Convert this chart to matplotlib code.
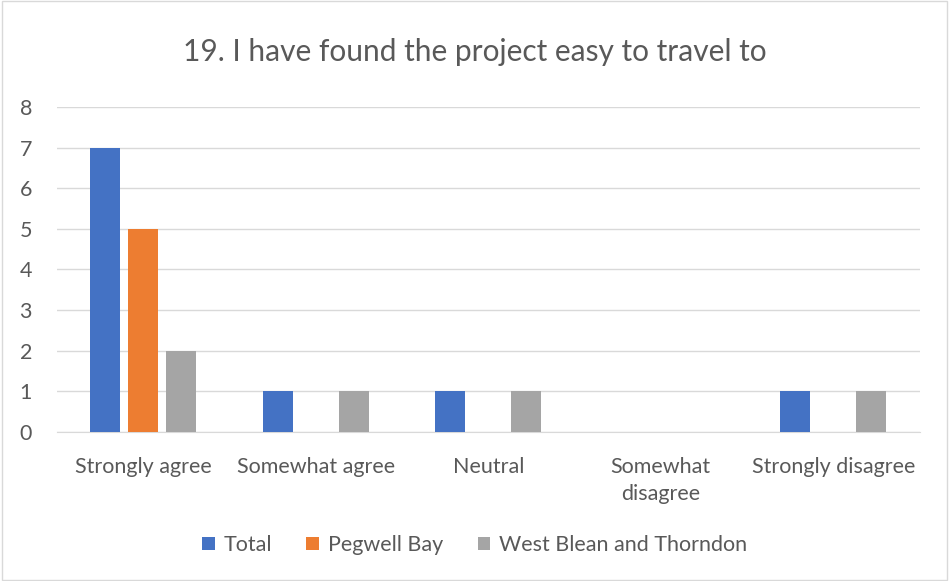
import matplotlib.pyplot as plt
from matplotlib.patches import Rectangle
import numpy as np

categories = ['Strongly agree', 'Somewhat agree', 'Neutral', 'Somewhat\ndisagree', 'Strongly disagree']
total = [7, 1, 1, 0, 1]
pegwell_bay = [5, 0, 0, 0, 0]
west_blean = [2, 1, 1, 0, 1]
series_names = ['Total', 'Pegwell Bay', 'West Blean and Thorndon']
colors = ['#4472C4', '#ED7D31', '#A5A5A5']
text_color = '#595959'

plt.rcParams['font.family'] = ['Lato', 'DejaVu Sans']

fig = plt.figure(figsize=(9.49, 5.81), dpi=100)
ax = fig.add_axes([0.060, 0.2565, 0.909, 0.5593])

x = np.arange(len(categories))
width = 0.173
step = 0.22
for i, (vals, name) in enumerate(zip([total, pegwell_bay, west_blean], series_names)):
    ax.bar(x + (i - 1) * step, vals, width, color=colors[i], label=name, zorder=3)

ax.set_xlim(-0.5, len(categories) - 0.5)
ax.set_ylim(0, 8)
ax.set_yticks(range(0, 9))
ax.grid(axis='y', color='#D9D9D9', linewidth=1, zorder=0)
for s in ['top', 'right', 'left']:
    ax.spines[s].set_visible(False)
ax.spines['bottom'].set_color('#D9D9D9')
ax.tick_params(axis='both', length=0, colors=text_color, labelsize=15.5)
ax.tick_params(axis='x', pad=18)
ax.tick_params(axis='y', pad=18)
ax.set_xticks(x)
ax.set_xticklabels(categories, linespacing=1.45)

fig.text(0.5, 0.91, '19. I have found the project easy to travel to', ha='center', va='center',
         fontsize=21.5, color=text_color)

fig.legend(loc='center', bbox_to_anchor=(0.5, 0.062), ncol=3, frameon=False, fontsize=15.5,
           handlelength=0.6, handleheight=0.6, handletextpad=0.4, columnspacing=1.6,
           labelcolor=text_color)

fig.patches.append(Rectangle((0.002, 0.002), 0.996, 0.996, transform=fig.transFigure,
                             fill=False, edgecolor='#D9D9D9', linewidth=1))

fig.savefig('out.png', dpi=100)
